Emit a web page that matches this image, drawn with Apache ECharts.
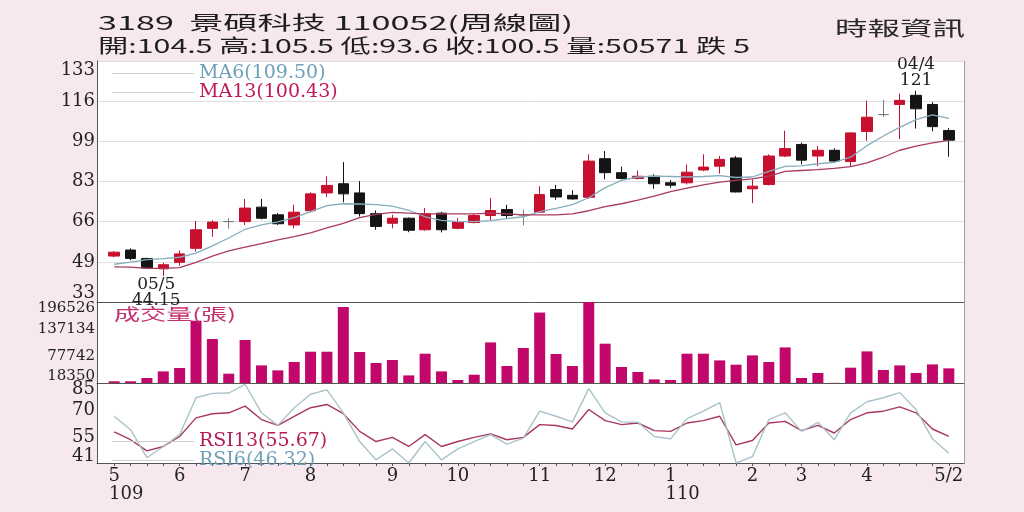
<!DOCTYPE html>
<html>
<head>
<meta charset="utf-8">
<script src="https://cdn.jsdelivr.net/npm/echarts@6/dist/echarts.min.js"></script>
<style>
html,body{margin:0;padding:0;background:#f6e8ee;}
#c{width:1024px;height:512px;}
</style>
</head>
<body>
<div id="c"></div>
<script>
// ---------- data ----------
const categories = [
  '2020/05/04','2020/05/11','2020/05/18','2020/05/25','2020/06/01','2020/06/08','2020/06/15','2020/06/22',
  '2020/06/29','2020/07/06','2020/07/13','2020/07/20','2020/07/27','2020/08/03','2020/08/10','2020/08/17',
  '2020/08/24','2020/08/31','2020/09/07','2020/09/14','2020/09/21','2020/09/28','2020/10/05','2020/10/12',
  '2020/10/19','2020/10/26','2020/11/02','2020/11/09','2020/11/16','2020/11/23','2020/11/30','2020/12/07',
  '2020/12/14','2020/12/21','2020/12/28','2021/01/04','2021/01/11','2021/01/18','2021/01/25','2021/02/01',
  '2021/02/08','2021/02/22','2021/03/01','2021/03/08','2021/03/15','2021/03/22','2021/03/29','2021/04/06',
  '2021/04/12','2021/04/19','2021/04/26','2021/05/03'
];
const opens = [52.4,54.9,51.4,47.1,49.8,55.6,63.9,66.7,66.7,72.7,69.5,65.3,71.2,78.6,82.4,78.6,70.0,66.0,68.1,63.3,70.2,63.9,66.3,69.2,71.7,69.5,70.6,80.0,77.6,76.8,92.8,87.0,84.6,85.5,82.8,82.8,88.1,89.7,93.1,80.3,82.1,93.9,98.7,93.9,96.3,91.6,104.1,111.1,115.3,119.1,115.3,104.5];
const closes = [54.0,51.4,47.5,48.8,53.3,63.3,66.5,66.7,72.3,68.1,65.8,70.6,78.2,81.7,78.2,70.0,64.7,68.1,63.1,70.0,63.3,66.7,69.2,71.3,69.2,69.5,77.9,76.9,76.1,91.8,87.0,84.6,85.5,82.4,81.8,87.2,89.3,92.5,79.0,81.4,93.9,97.0,92.2,96.3,91.8,103.5,110.0,111.1,117.0,113.5,106.1,100.5];
const lows = [51.9,50.7,47.0,44.15,48.4,54.2,60.4,63.7,65.3,67.6,65.3,63.9,70.5,76.9,74.7,68.8,63.3,63.9,62.3,62.9,62.2,63.5,65.9,67.1,68.1,65.2,70.2,75.7,75.8,76.1,84.2,84.2,84.2,80.3,80.7,82.1,87.6,86.6,78.8,74.4,81.7,93.5,90.4,89.7,91.1,89.5,100.2,110.0,100.9,105.3,104.1,93.6];
const highs = [54.5,55.6,51.7,49.6,54.7,67.0,67.2,68.1,76.1,76.1,70.2,73.7,78.9,85.5,91.4,83.5,71.3,69.5,68.5,72.3,70.8,68.1,69.9,76.5,73.7,71.7,81.4,81.9,79.7,94.6,96.0,89.5,87.9,86.3,83.9,90.4,94.6,93.9,93.9,84.2,94.6,104.4,99.5,98.1,97.1,103.8,116.9,117.2,119.8,121,116.3,105.5];
const ma6 = [49.0,49.9,50.9,51.3,51.9,53.6,56.6,59.9,63.5,65.3,66.6,68.3,70.8,73.3,74.1,74.0,73.7,73.1,71.4,68.7,67.2,66.7,66.7,67.1,67.9,68.7,70.8,72.2,73.7,76.6,80.8,83.8,85.2,85.6,85.4,85.2,85.4,85.8,85.0,85.2,87.5,89.6,89.8,90.7,91.3,93.4,98.2,102.2,105.8,109.0,111.0,109.50];
const ma13 = [47.9,47.8,47.3,47.3,47.6,49.8,52.4,54.5,56.1,57.6,59.1,60.5,62.0,64.1,66.0,68.3,69.7,70.5,70.2,69.9,69.9,69.9,69.9,70.2,69.9,69.5,69.5,69.5,69.9,71.2,72.9,74.1,75.6,77.3,79.1,80.6,81.9,83.1,83.8,84.4,85.6,87.5,87.9,88.3,88.8,89.5,91.1,93.4,96.3,98.0,99.4,100.43];
const volumes = [22100,22100,29350,43900,51350,155400,115150,38800,112950,57100,46100,64550,87200,87200,185550,86550,62350,68950,35050,82800,43900,24950,36600,107650,55750,95350,173300,82150,55750,196526,104800,53550,42550,26270,24950,82800,82800,68070,58610,79070,64550,96670,29350,40350,18700,52010,87870,46950,57070,40350,59270,50571];
const rsi6 = [66.7,59.3,43.9,50.1,56.6,76.9,79.3,79.5,84.3,68.6,61.7,71.4,78.8,81.2,68.6,52.8,42.7,48.8,41.0,52.8,42.7,48.8,52.8,56.6,51.4,54.7,69.5,66.7,63.6,81.9,68.6,63.6,63.4,55.6,54.3,65.4,69.5,74.2,41.0,44.5,64.9,68.6,58.4,63.4,53.8,68.6,74.7,76.9,79.7,70.4,54.3,46.32];
const rsi13 = [58.1,53.8,47.7,50.1,55.6,65.8,68.1,68.6,72.3,64.9,61.7,66.7,71.4,73.2,68.1,58.4,52.8,55.1,50.1,56.6,50.1,52.8,55.1,57.0,53.8,55.1,62.1,61.6,59.7,70.4,64.3,62.1,63.0,58.8,58.4,63.0,64.3,66.7,51.0,53.4,63.0,63.9,58.8,61.7,57.5,64.9,68.6,69.5,71.9,68.6,59.7,55.67];

const priceTickLabels = ['33','49','66','83','99','116','133'];
const volumeTicks = [18350, 77742, 137134, 196526];
const rsiTicks = [41, 55, 70, 85];
const monthLabels = {0:'5', 4:'6', 8:'7', 12:'8', 17:'9', 21:'10', 26:'11', 30:'12', 34:'1', 39:'2', 42:'3', 46:'4', 51:'5/2'};
const yearLabels = {0:'109', 34:'110'};
const highNote = {index: 49, text: '04/4'};
const lowNote = {index: 3, text: '05/5'};
const stockTitle = '3189  景碩科技 110052(周線圖)';
const changeText = '跌 5';
const sourceText = '時報資訊';
const volumeTitle = '成交量(張)';

// ---------- layout / style ----------
const serif = '"DejaVu Serif", "Liberation Serif", serif';
const cjk = '"Noto Sans CJK TC", "Noto Sans", sans-serif';
const priceMin = 100 / 3, priceStep = 50 / 3, priceMax = 400 / 3;
const last = a => a[a.length - 1];

function textWidth(text, font) {
  const ctx = document.createElement('canvas').getContext('2d');
  ctx.font = font;
  return ctx.measureText(text).width;
}
function stretchedText(text, size, family, x, y, targetWidth, color) {
  const font = size + 'px ' + family;
  const w = textWidth(text, font);
  return {
    type: 'text', x: x, y: y, scaleX: targetWidth / w, silent: true, z: 100,
    style: { text: text, font: font, fill: color, textAlign: 'left', textVerticalAlign: 'middle', align: 'left', verticalAlign: 'middle' }
  };
}

const frames = [
  { top: 61, height: 241 },
  { top: 302, height: 81 },
  { top: 383, height: 80 }
];
const grids = frames.map(f => ({ left: 97, right: 60, top: f.top, height: f.height, show: true, backgroundColor: '#ffffff', borderWidth: 0, borderColor: 'transparent' }))
  .concat(frames.map(f => ({ left: 106, right: 67, top: f.top, height: f.height })));

const edgeLabelOpts = {
  showMinLabel: true, showMaxLabel: true, hideOverlap: false,
  verticalAlignMinLabel: 'bottom', verticalAlignMaxLabel: 'top'
};

const frameX = gi => ({
  type: 'value', gridIndex: gi, min: 0, max: 1, position: 'bottom',
  axisLine: { show: true, onZero: false, lineStyle: { color: '#555', width: 1 } },
  axisTick: { show: false }, axisLabel: { show: false }, splitLine: { show: false }
});
const dataX = gi => ({
  type: 'category', gridIndex: gi, data: categories, boundaryGap: true,
  axisLine: { show: false }, axisTick: { show: false }, axisLabel: { show: false }, splitLine: { show: false }
});
const rightY = gi => ({
  type: 'value', gridIndex: gi, position: 'right', min: 0, max: 1,
  axisLine: { show: true, onZero: false, lineStyle: { color: '#a0a0a0', width: 1 } },
  axisTick: { show: false }, axisLabel: { show: false }, splitLine: { show: false }
});

const candleData = categories.map((c, i) => [opens[i], closes[i], lows[i], highs[i]]);

const option = {
  animation: false,
  backgroundColor: '#f6e8ee',
  grid: grids,
  xAxis: [
    frameX(0), frameX(1), frameX(2),
    dataX(3), dataX(4),
    Object.assign(dataX(5), {
      axisTick: { show: true, alignWithLabel: true, interval: 0, length: 3, lineStyle: { color: '#555' } },
      axisLabel: { show: true, interval: 0, margin: 4, fontFamily: serif, fontSize: 18, color: '#222',
        formatter: (v, i) => monthLabels[i] || '' }
    }),
    Object.assign(dataX(5), {
      position: 'bottom', offset: 18,
      axisLabel: { show: true, interval: 0, margin: 4, fontFamily: serif, fontSize: 18, color: '#222',
        formatter: (v, i) => yearLabels[i] ? '{y|' + yearLabels[i] + '}' : '',
        rich: { y: { fontFamily: serif, color: '#222', fontSize: 18, padding: [0, 0, 0, 24] } } }
    })
  ],
  yAxis: [
    {
      type: 'value', gridIndex: 0, min: priceMin, max: priceMax, interval: priceStep, position: 'left',
      axisLine: { show: true, onZero: false, lineStyle: { color: '#555' } },
      axisTick: { show: false },
      splitLine: { show: true, lineStyle: { color: '#dedede', width: 1 } },
      axisLabel: Object.assign({
        margin: 2, fontFamily: serif, fontSize: 18, color: '#222',
        formatter: v => priceTickLabels[Math.round((v - priceMin) / priceStep)] || ''
      }, edgeLabelOpts)
    },
    {
      type: 'value', gridIndex: 1, min: volumeTicks[0], max: last(volumeTicks), position: 'left',
      axisLine: { show: true, onZero: false, lineStyle: { color: '#555' } },
      axisTick: { show: false }, splitLine: { show: false },
      axisLabel: Object.assign({
        customValues: volumeTicks, margin: 2, fontFamily: serif, fontSize: 15, lineHeight: 13, color: '#222',
        formatter: v => String(v)
      }, edgeLabelOpts)
    },
    {
      type: 'value', gridIndex: 2, min: rsiTicks[0], max: last(rsiTicks), position: 'left',
      axisLine: { show: true, onZero: false, lineStyle: { color: '#555' } },
      axisTick: { show: false }, splitLine: { show: false },
      axisLabel: Object.assign({
        customValues: rsiTicks, margin: 2, fontFamily: serif, fontSize: 18, lineHeight: 13, color: '#222',
        formatter: v => String(v)
      }, edgeLabelOpts)
    },
    { type: 'value', gridIndex: 3, min: priceMin, max: priceMax, show: false, splitLine: { show: false } },
    { type: 'value', gridIndex: 4, min: volumeTicks[0], max: last(volumeTicks), show: false, splitLine: { show: false } },
    { type: 'value', gridIndex: 5, min: rsiTicks[0], max: last(rsiTicks), show: false, splitLine: { show: false } },
    rightY(0), rightY(1), rightY(2)
  ],
  legend: [
    {
      left: 112, top: 64, orient: 'vertical', padding: 0, itemGap: 0, itemWidth: 82, itemHeight: 1,
      icon: 'rect', selectedMode: false,
      textStyle: { fontFamily: serif, fontSize: 19, lineHeight: 16 },
      formatter: name => name + '(' + (name === 'MA6' ? last(ma6) : last(ma13)).toFixed(2) + ')',
      data: [
        { name: 'MA6', itemStyle: { color: '#cfcfcf', borderWidth: 0 }, textStyle: { color: '#6c9fb8' } },
        { name: 'MA13', itemStyle: { color: '#cfcfcf', borderWidth: 0 }, textStyle: { color: '#c0185a' } }
      ]
    },
    {
      left: 112, top: 432, orient: 'vertical', padding: 0, itemGap: 0, itemWidth: 82, itemHeight: 1,
      icon: 'rect', selectedMode: false,
      textStyle: { fontFamily: serif, fontSize: 19, lineHeight: 17 },
      formatter: name => name + '(' + (name === 'RSI13' ? last(rsi13) : last(rsi6)).toFixed(2) + ')',
      data: [
        { name: 'RSI13', itemStyle: { color: '#cfcfcf', borderWidth: 0 }, textStyle: { color: '#b31a56' } },
        { name: 'RSI6', itemStyle: { color: '#cfcfcf', borderWidth: 0 }, textStyle: { color: '#6c9fb8' } }
      ]
    }
  ],
  graphic: [
    stretchedText(stockTitle, 19, cjk, 98, 23, 475, '#1e1e1e'),
    stretchedText('開:' + opens[51] + ' 高:' + highs[51] + ' 低:' + lows[51] + ' 收:' + closes[51] + ' 量:' + volumes[51] + ' ' + changeText, 19, cjk, 98, 46, 652, '#1e1e1e'),
    stretchedText(sourceText, 20, cjk, 835, 28, 130, '#2a2a2a'),
    stretchedText(volumeTitle, 16, cjk, 114, 314, 122, '#c4306e')
  ],
  series: [
    {
      name: 'K', type: 'candlestick', xAxisIndex: 3, yAxisIndex: 3, data: candleData, barWidth: 11,
      itemStyle: { color: '#c8102e', color0: '#151515', borderColor: '#c8102e', borderColor0: '#151515', borderColorDoji: '#7a7a7a', borderWidth: 1 },
      markPoint: {
        symbol: 'circle', symbolSize: 0, silent: true, animation: false,
        label: { show: true, fontFamily: serif, fontSize: 17, color: '#222', lineHeight: 16 },
        data: [
          { coord: [categories[highNote.index], highs[highNote.index]],
            label: { position: 'top', distance: 2, formatter: highNote.text + '\n' + highs[highNote.index] } },
          { coord: [categories[lowNote.index], lows[lowNote.index]],
            label: { position: 'bottom', distance: 1, offset: [-7, 0], formatter: lowNote.text + '\n' + lows[lowNote.index] } }
        ]
      }
    },
    { name: 'MA6', type: 'line', xAxisIndex: 3, yAxisIndex: 3, data: ma6, symbol: 'none', z: 3,
      lineStyle: { color: '#86adbd', width: 1.3 }, itemStyle: { color: '#86adbd' } },
    { name: 'MA13', type: 'line', xAxisIndex: 3, yAxisIndex: 3, data: ma13, symbol: 'none', z: 3,
      lineStyle: { color: '#a93a5e', width: 1.3 }, itemStyle: { color: '#a93a5e' } },
    { name: 'VOL', type: 'bar', xAxisIndex: 4, yAxisIndex: 4, data: volumes, barWidth: 11,
      itemStyle: { color: '#c2076a' } },
    { name: 'RSI13', type: 'line', xAxisIndex: 5, yAxisIndex: 5, data: rsi13, symbol: 'none',
      lineStyle: { color: '#a8385f', width: 1.4 }, itemStyle: { color: '#a8385f' } },
    { name: 'RSI6', type: 'line', xAxisIndex: 5, yAxisIndex: 5, data: rsi6, symbol: 'none',
      lineStyle: { color: '#a9c3cb', width: 1.4 }, itemStyle: { color: '#a9c3cb' } }
  ]
};

const chart = echarts.init(document.getElementById('c'), null, { width: 1024, height: 512 });
chart.setOption(option);
</script>
</body>
</html>
